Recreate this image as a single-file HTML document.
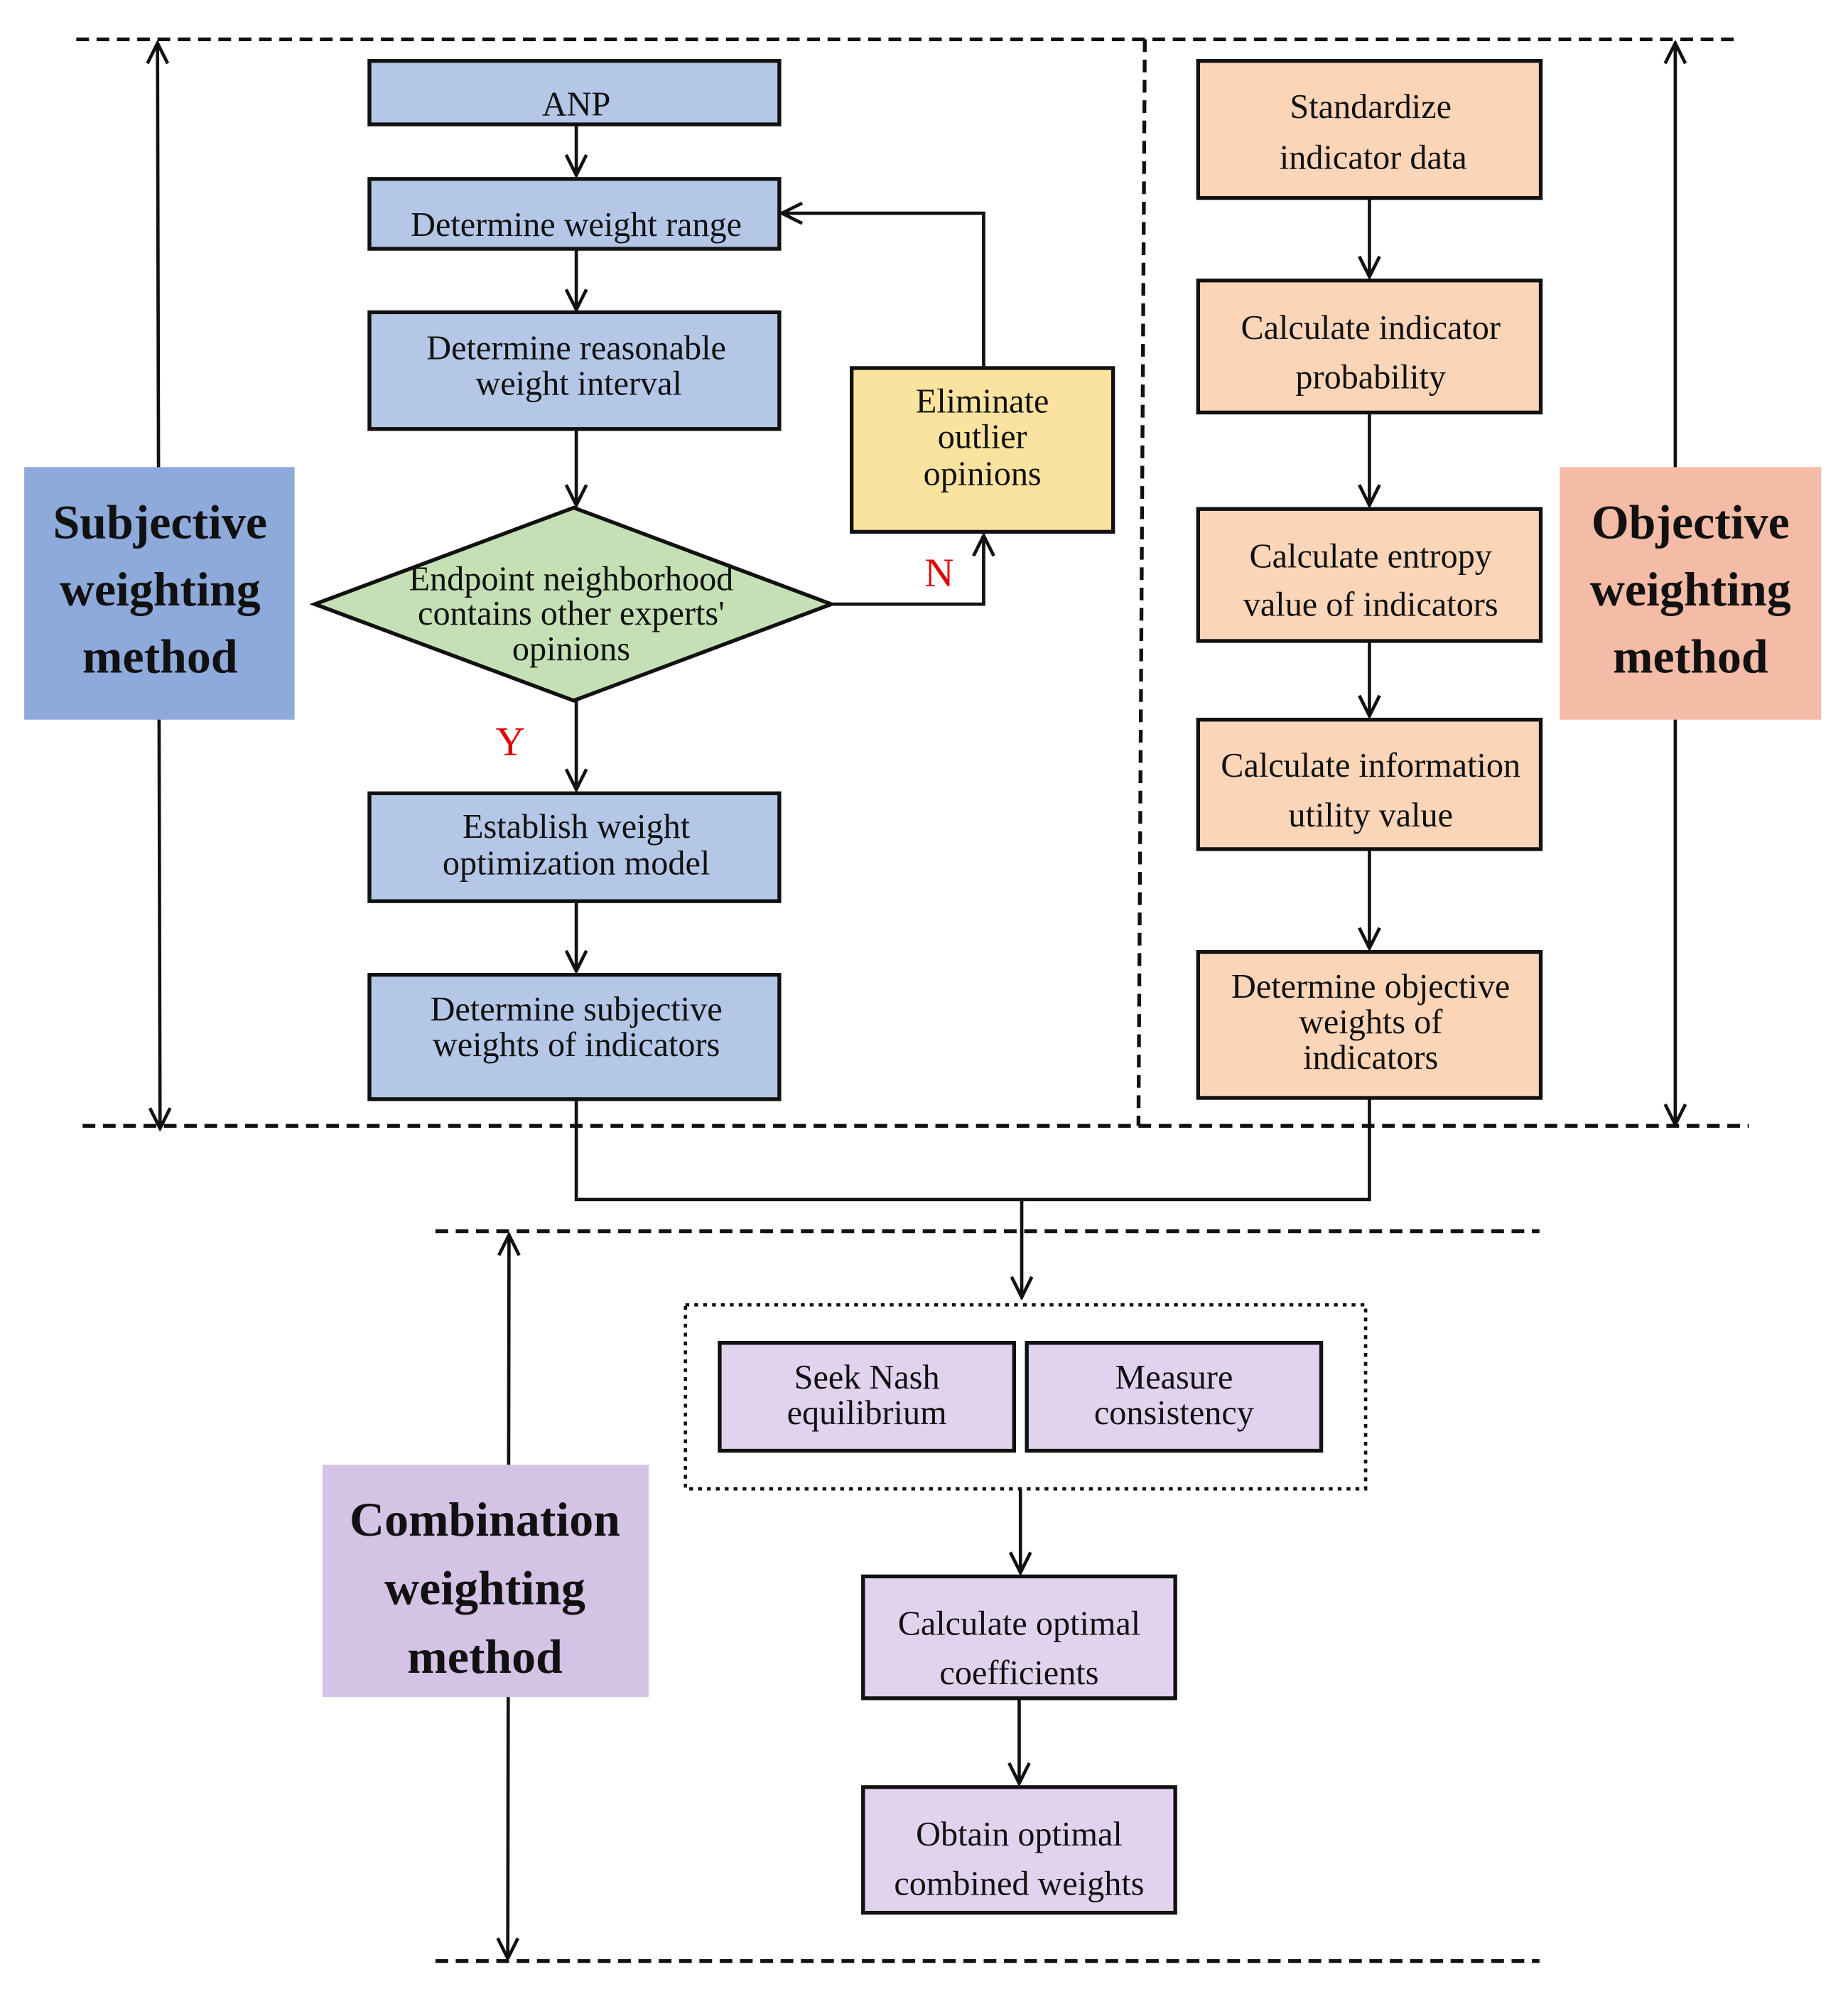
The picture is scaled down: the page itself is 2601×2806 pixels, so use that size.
<!DOCTYPE html>
<html><head><meta charset="utf-8"><style>
html,body{margin:0;padding:0;background:#fff}
svg{display:block}
text{font-family:"Liberation Serif",serif;fill:#111}
.t{font-size:27px;text-anchor:middle}
.b{font-size:38px;font-weight:bold;text-anchor:middle}
.box{stroke:#111;stroke-width:3}
.ln{stroke:#111;stroke-width:2.6;fill:none}
.ds{stroke:#111;stroke-width:3;stroke-dasharray:10,6;fill:none}
</style></head><body>
<svg width="2601" height="2806" viewBox="0 0 1456 1571" xmlns="http://www.w3.org/2000/svg">
<defs>
<marker id="a" viewBox="0 0 20 20" refX="18" refY="10" markerWidth="20" markerHeight="20" markerUnits="userSpaceOnUse" orient="auto-start-reverse">
<polyline points="2,2 18,10 2,18" fill="none" stroke="#111" stroke-width="2.6"/>
</marker>
</defs>
<!-- dashed boundaries -->
<line class="ds" x1="60" y1="31" x2="1372" y2="31"/>
<line class="ds" x1="65" y1="887" x2="1378" y2="887"/>
<line class="ds" x1="902" y1="31" x2="897" y2="887"/>
<line class="ds" x1="343" y1="970" x2="1213" y2="970"/>
<line class="ds" x1="343" y1="1545" x2="1213" y2="1545"/>
<!-- side arrows -->
<line class="ln" x1="124" y1="34" x2="126" y2="889" marker-start="url(#a)" marker-end="url(#a)"/>
<line class="ln" x1="1320" y1="34" x2="1320" y2="886" marker-start="url(#a)" marker-end="url(#a)"/>
<line class="ln" x1="401" y1="973" x2="400" y2="1543" marker-start="url(#a)" marker-end="url(#a)"/>
<!-- labels -->
<rect x="19" y="368" width="213" height="199" fill="#8eaadb"/>
<text class="b" x="126" y="424">Subjective</text><text class="b" x="126" y="477">weighting</text><text class="b" x="126" y="530">method</text>
<rect x="1229" y="368" width="206" height="199" fill="#f4bba6"/>
<text class="b" x="1332" y="424">Objective</text><text class="b" x="1332" y="477">weighting</text><text class="b" x="1332" y="530">method</text>
<rect x="254" y="1154" width="257" height="183" fill="#d5c3e5"/>
<text class="b" x="382" y="1210">Combination</text><text class="b" x="382" y="1264">weighting</text><text class="b" x="382" y="1318">method</text>
<!-- left column -->
<rect class="box" x="291" y="48" width="323" height="50" fill="#b4c7e7"/>
<text class="t" x="454" y="91">ANP</text>
<line class="ln" x1="454" y1="98" x2="454" y2="138" marker-end="url(#a)"/>
<rect class="box" x="291" y="141" width="323" height="55" fill="#b4c7e7"/>
<text class="t" x="454" y="186">Determine weight range</text>
<line class="ln" x1="454" y1="196" x2="454" y2="244" marker-end="url(#a)"/>
<rect class="box" x="291" y="246" width="323" height="92" fill="#b4c7e7"/>
<text class="t" x="454" y="283">Determine reasonable</text><text class="t" x="456" y="311">weight interval</text>
<line class="ln" x1="454" y1="338" x2="454" y2="398" marker-end="url(#a)"/>
<polygon class="box" points="452,400 655,476 452,552 248,476" fill="#c5e0b4"/>
<text class="t" x="450" y="465">Endpoint neighborhood</text><text class="t" x="450" y="492">contains other experts'</text><text class="t" x="450" y="520">opinions</text>
<text x="402" y="595" style="font-size:32px;fill:#e00000;text-anchor:middle">Y</text>
<line class="ln" x1="454" y1="552" x2="454" y2="622" marker-end="url(#a)"/>
<rect class="box" x="291" y="625" width="323" height="85" fill="#b4c7e7"/>
<text class="t" x="454" y="660">Establish weight</text><text class="t" x="454" y="689">optimization model</text>
<line class="ln" x1="454" y1="710" x2="454" y2="765" marker-end="url(#a)"/>
<rect class="box" x="291" y="768" width="323" height="98" fill="#b4c7e7"/>
<text class="t" x="454" y="804">Determine subjective</text><text class="t" x="454" y="832">weights of indicators</text>
<!-- loop -->
<polyline class="ln" points="655,476 775,476 775,422" marker-end="url(#a)"/>
<text x="740" y="462" style="font-size:32px;fill:#e00000;text-anchor:middle">N</text>
<rect class="box" x="671" y="290" width="206" height="129" fill="#fae39f"/>
<text class="t" x="774" y="325">Eliminate</text><text class="t" x="774" y="353">outlier</text><text class="t" x="774" y="382">opinions</text>
<polyline class="ln" points="775,290 775,168 616,168" marker-end="url(#a)"/>
<!-- right column -->
<g fill="#fbd5b8">
<rect class="box" x="944" y="48" width="270" height="108"/>
<rect class="box" x="944" y="221" width="270" height="104"/>
<rect class="box" x="944" y="401" width="270" height="104"/>
<rect class="box" x="944" y="567" width="270" height="102"/>
<rect class="box" x="944" y="750" width="270" height="115"/>
</g>
<text class="t" x="1080" y="93">Standardize</text><text class="t" x="1082" y="133">indicator data</text>
<text class="t" x="1080" y="267">Calculate indicator</text><text class="t" x="1080" y="306">probability</text>
<text class="t" x="1080" y="447">Calculate entropy</text><text class="t" x="1080" y="485">value of indicators</text>
<text class="t" x="1080" y="612">Calculate information</text><text class="t" x="1080" y="651">utility value</text>
<text class="t" x="1080" y="786">Determine objective</text><text class="t" x="1080" y="814">weights of</text><text class="t" x="1080" y="842">indicators</text>
<line class="ln" x1="1079" y1="156" x2="1079" y2="218" marker-end="url(#a)"/>
<line class="ln" x1="1079" y1="325" x2="1079" y2="398" marker-end="url(#a)"/>
<line class="ln" x1="1079" y1="505" x2="1079" y2="564" marker-end="url(#a)"/>
<line class="ln" x1="1079" y1="669" x2="1079" y2="747" marker-end="url(#a)"/>
<!-- merge -->
<polyline class="ln" points="454,866 454,945 1079,945 1079,865"/>
<line class="ln" x1="805" y1="945" x2="805" y2="1022" marker-end="url(#a)"/>
<!-- combination -->
<rect x="540" y="1028" width="536" height="145" fill="none" stroke="#111" stroke-width="2.6" stroke-dasharray="3,4"/>
<rect class="box" x="567" y="1058" width="232" height="85" fill="#e1d3ee"/>
<rect class="box" x="809" y="1058" width="232" height="85" fill="#e1d3ee"/>
<text class="t" x="683" y="1094">Seek Nash</text><text class="t" x="683" y="1122">equilibrium</text>
<text class="t" x="925" y="1094">Measure</text><text class="t" x="925" y="1122">consistency</text>
<line class="ln" x1="804" y1="1173" x2="804" y2="1239" marker-end="url(#a)"/>
<rect class="box" x="680" y="1242" width="246" height="96" fill="#e1d3ee"/>
<text class="t" x="803" y="1288">Calculate optimal</text><text class="t" x="803" y="1327">coefficients</text>
<line class="ln" x1="803" y1="1338" x2="803" y2="1405" marker-end="url(#a)"/>
<rect class="box" x="680" y="1408" width="246" height="99" fill="#e1d3ee"/>
<text class="t" x="803" y="1454">Obtain optimal</text><text class="t" x="803" y="1493">combined weights</text>
</svg>
</body></html>
